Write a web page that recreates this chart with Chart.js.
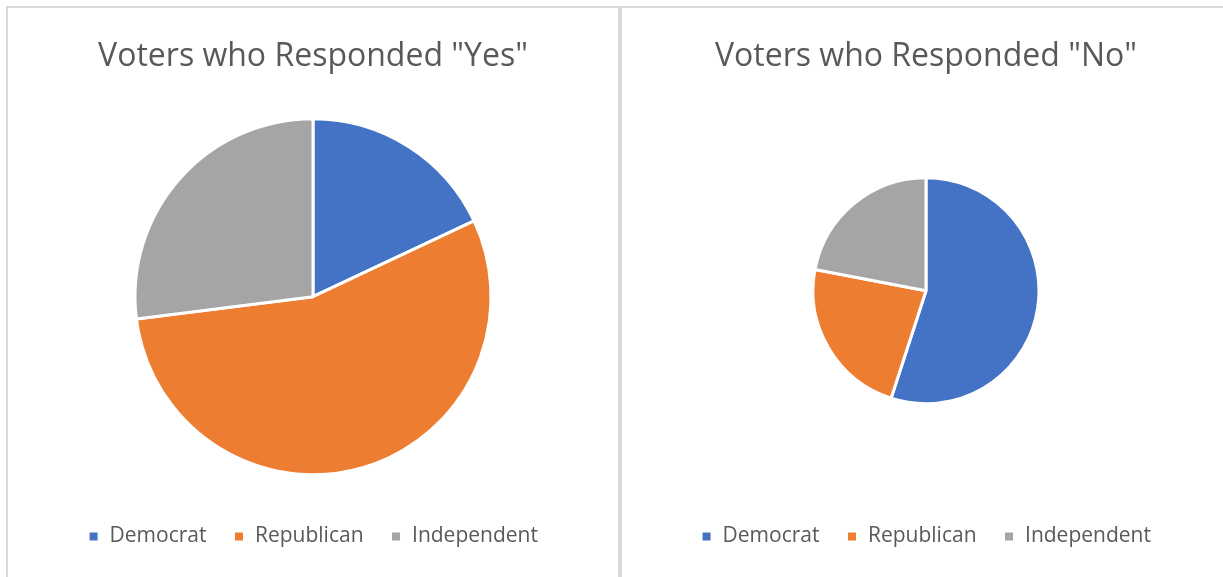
<!DOCTYPE html>
<html lang="en">
<head>
  <meta charset="UTF-8">
  <title>Voters poll</title>
  <script src="https://cdn.jsdelivr.net/npm/chart.js"></script>
  <style>
    html, body {
      margin: 0;
      padding: 0;
      background: #fff;
      overflow: hidden;
      width: 1223px;
      height: 577px;
    }
    .panel {
      position: absolute;
      top: 6px;
      height: 600px;
      border-top: 2px solid #d9d9d9;
      border-left: 2px solid #d9d9d9;
      box-sizing: border-box;
    }
    #left { left: 6px; width: 614px; border-right: 2px solid #d9d9d9; }
    #right { left: 620px; width: 612px; }
    .panel canvas { position: absolute; left: 0; top: 0; }
  </style>
</head>
<body>
  <div class="panel" id="left"><canvas id="yes"></canvas></div>
  <div class="panel" id="right"><canvas id="no"></canvas></div>

  <script>
    const parties = ['Democrat', 'Republican', 'Independent'];
    const yesVotes = [18, 55, 27];
    const noVotes = [55, 23, 22];
    const partyColors = ['#4472C4', '#ED7D31', '#A5A5A5'];

    Chart.defaults.font.family = '"Open Sans", sans-serif';
    Chart.defaults.color = '#595959';

    function makePie(id, title, values, radius, titleGap, w) {
      const el = document.getElementById(id);
      el.width = w;
      el.height = 569;
      el.style.width = w + 'px';
      el.style.height = '569px';
      return new Chart(el, {
        type: 'pie',
        data: {
          labels: parties,
          datasets: [{
            data: values,
            backgroundColor: partyColors,
            borderColor: '#ffffff',
            borderWidth: 3,
            radius: radius
          }]
        },
        options: {
          responsive: false,
          animation: false,
          layout: { padding: { bottom: 20 } },
          plugins: {
            title: {
              display: true,
              text: title,
              color: '#595959',
              font: { size: 32, weight: 'normal' },
              padding: { top: 30, bottom: titleGap }
            },
            legend: {
              position: 'bottom',
              labels: {
                // white 3px slice border eats into the box, so 11 -> ~8px square
                boxWidth: 11,
                boxHeight: 11,
                padding: 27,
                color: '#595959',
                font: { size: 21 }
              }
            },
            tooltip: { enabled: false }
          }
        }
      });
    }

    makePie('yes', 'Voters who Responded "Yes"', yesVotes, 178, 18, 610);
    makePie('no', 'Voters who Responded "No"', noVotes, 113, 6, 608);
  </script>
</body>
</html>
